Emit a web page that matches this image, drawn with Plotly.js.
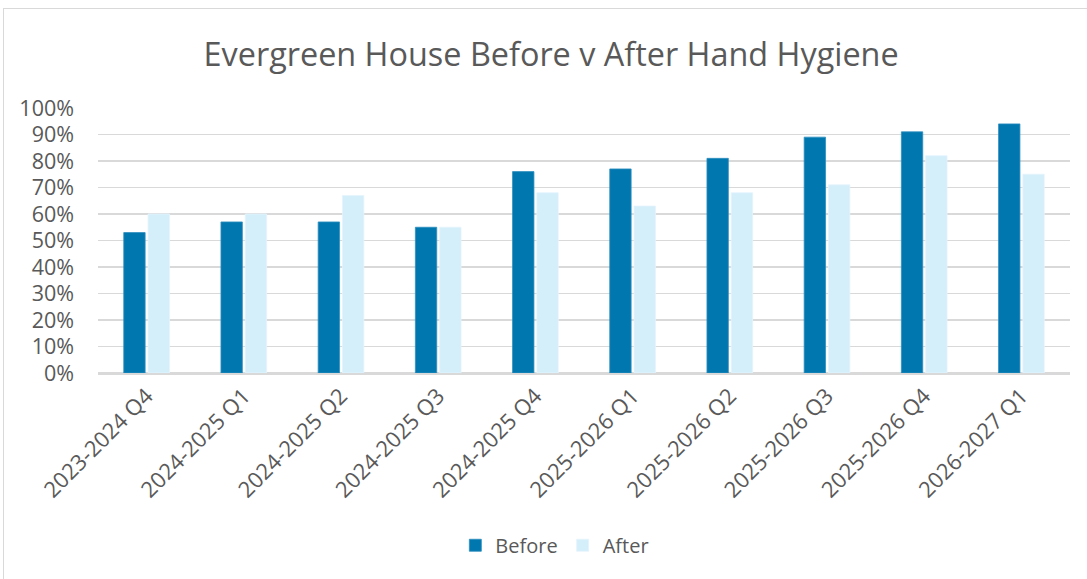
<!DOCTYPE html>
<html>
<head>
<meta charset="utf-8">
<script src="https://cdn.plot.ly/plotly-3.0.1.min.js"></script>
<style>
  html, body { margin: 0; padding: 0; background: #fff; overflow: hidden; }
  #wrap { position: relative; width: 1087px; height: 579px; overflow: hidden; }
  #chart { width: 1087px; height: 579px; }
  #frame { position: absolute; left: 3px; top: 8px; width: 1100px; height: 600px; border: 1.5px solid #d9d9d9; pointer-events: none; }
</style>
</head>
<body>
<div id="wrap">
  <div id="chart"></div>
  <div id="frame"></div>
</div>
<script>
const categories = ["2023-2024 Q4", "2024-2025 Q1", "2024-2025 Q2", "2024-2025 Q3", "2024-2025 Q4",
                    "2025-2026 Q1", "2025-2026 Q2", "2025-2026 Q3", "2025-2026 Q4", "2026-2027 Q1"];
const beforeValues = [0.53, 0.57, 0.57, 0.55, 0.76, 0.77, 0.81, 0.89, 0.91, 0.94];
const afterValues  = [0.60, 0.60, 0.67, 0.55, 0.68, 0.63, 0.68, 0.71, 0.82, 0.75];
const yTickValues = [0, 0.1, 0.2, 0.3, 0.4, 0.5, 0.6, 0.7, 0.8, 0.9, 1.0];

const fontFamily = "'Open Sans', 'Noto Sans', sans-serif";
const textColor = "#595959";

const data = [
  { type: "bar", name: "Before", x: categories, y: beforeValues,
    marker: { color: "#0077AE", line: { color: "#2f8fc0", width: 0.8 } }, hoverinfo: "skip" },
  { type: "bar", name: "After", x: categories, y: afterValues,
    marker: { color: "#D4EEFA", line: { color: "#e4f4fc", width: 0.8 } }, hoverinfo: "skip" }
];

const layout = {
  width: 1087, height: 579,
  paper_bgcolor: "#ffffff", plot_bgcolor: "#ffffff",
  font: { family: fontFamily, color: textColor, size: 20 },
  title: { text: "Evergreen House Before v After Hand Hygiene",
           font: { family: fontFamily, size: 32.4, color: textColor },
           x: 0.507, xref: "container", xanchor: "center",
           y: 1 - 55 / 579, yref: "container", yanchor: "middle" },
  margin: { l: 98, r: 17, t: 107.5, b: 206.3, pad: 0 },
  barmode: "group", bargap: 0.5, bargroupgap: 0.12,
  showlegend: true,
  legend: { orientation: "h", x: 0.47, xanchor: "center", y: -0.65, yanchor: "middle",
            font: { size: 20, color: textColor }, itemwidth: 30, traceorder: "normal" },
  xaxis: { type: "category", tickangle: -45, showgrid: false, ticks: "", showline: true,
           linecolor: "#d9d9d9", linewidth: 1.5, tickfont: { size: 22, color: textColor }, fixedrange: true },
  yaxis: { range: [0, 1.0], tickvals: yTickValues, tickformat: ".0%", showgrid: true,
           gridcolor: "#d9d9d9", gridwidth: 1.4, zeroline: true, zerolinecolor: "#d9d9d9", zerolinewidth: 1.5,
           showline: false, ticks: "", ticklabelstandoff: 23, tickfont: { size: 21.5, color: textColor }, fixedrange: true }
};

Plotly.newPlot("chart", data, layout, { displayModeBar: false, staticPlot: true });
</script>
</body>
</html>
